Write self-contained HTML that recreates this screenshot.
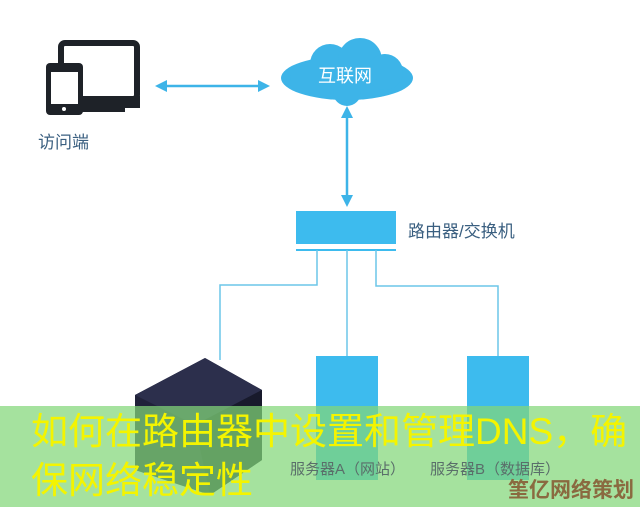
<!DOCTYPE html>
<html><head><meta charset="utf-8"><style>
html,body{margin:0;padding:0;}
body{width:640px;height:507px;position:relative;overflow:hidden;background:#fff;font-family:"Liberation Sans","Noto Sans CJK SC",sans-serif;}
.t{position:absolute;white-space:nowrap;}
</style></head><body>
<svg width="640" height="507" style="position:absolute;left:0;top:0">
<rect x="61" y="43" width="76" height="56" rx="4" fill="none" stroke="#1e2228" stroke-width="6"/>
<rect x="58" y="96" width="82" height="12" fill="#1e2228"/>
<rect x="75" y="107" width="50" height="5" fill="#1e2228"/>
<rect x="46" y="63" width="37" height="52" rx="4" fill="#1e2228"/>
<rect x="51" y="72" width="27" height="32" fill="#fff"/>
<circle cx="64" cy="109" r="2" fill="#fff"/>
<circle cx="99" cy="94" r="2" fill="#fff"/>
<line x1="160" y1="86" x2="265" y2="86" stroke="#3db4e8" stroke-width="2.5"/>
<polygon points="155,86 167,80 167,92" fill="#3db4e8"/>
<polygon points="270,86 258,80 258,92" fill="#3db4e8"/>
<g fill="#3db4e8">
<ellipse cx="347" cy="78" rx="66" ry="22"/>
<circle cx="330" cy="64" r="20"/>
<circle cx="360" cy="60" r="22"/>
<circle cx="385" cy="72" r="18"/>
<circle cx="306" cy="78" r="16"/>
<circle cx="347" cy="92" r="14"/>
</g>
<line x1="347" y1="112" x2="347" y2="200" stroke="#3db4e8" stroke-width="2.5"/>
<polygon points="347,106 341,118 353,118" fill="#3db4e8"/>
<polygon points="347,207 341,195 353,195" fill="#3db4e8"/>
<rect x="296" y="211" width="100" height="33" fill="#3dbbee"/>
<line x1="296" y1="250" x2="396" y2="250" stroke="#3dbbee" stroke-width="2"/>
<g stroke="#6cc6e8" stroke-width="1.5" fill="none">
<polyline points="317,250 317,285 220,285 220,360"/>
<line x1="347" y1="250" x2="347" y2="356"/>
<polyline points="376,250 376,286 498,286 498,356"/>
</g>
<rect x="316" y="356" width="62" height="124" fill="#3dbbee"/>
<rect x="467" y="356" width="62" height="124" fill="#3dbbee"/>
<polygon points="135,395 205,358 262,390 262,460 210,495 135,470" fill="#20223a"/>
<polygon points="135,395 205,358 262,390 195,425" fill="#2c2f4c"/>
<polygon points="195,425 262,390 262,460 210,495" fill="#181a2c"/>
</svg>
<div class="t" style="left:318px;top:62px;font-size:18px;color:#fff">互联网</div>
<div class="t" style="left:38px;top:128px;font-size:17px;color:#3a5f80">访问端</div>
<div class="t" style="left:408px;top:217px;font-size:17px;color:#3a5f80">路由器/交换机</div>
<div style="position:absolute;left:0;top:406px;width:640px;height:101px;background:rgba(130,215,120,0.72)"></div>
<div class="t" style="left:290px;top:458px;font-size:15px;color:#5a6e6a">服务器A（网站）</div>
<div class="t" style="left:430px;top:458px;font-size:15px;color:#5a6e6a">服务器B（数据库）</div>
<div class="t" style="left:31px;top:408px;font-size:37px;line-height:48px;color:#f4f400">如何在路由器中设置和管理DNS，确</div>
<div class="t" style="left:31px;top:457px;font-size:37px;line-height:48px;color:#f4f400">保网络稳定性</div>
<div class="t" style="left:508px;top:474px;font-size:21px;font-weight:bold;color:#8a6a40">筀亿网络策划</div>
</body></html>
